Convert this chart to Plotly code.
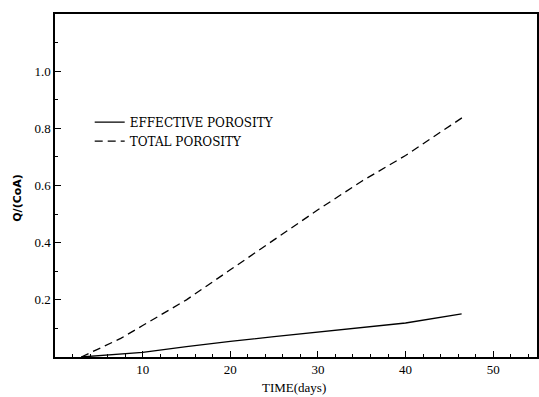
import plotly.graph_objects as go

# Data
time_total = [3.0, 5.0, 7.5, 10.0, 15.0, 20.0, 25.0, 30.0, 35.0, 40.0, 46.6]
q_total = [0.0, 0.03, 0.065, 0.11, 0.20, 0.305, 0.41, 0.515, 0.615, 0.705, 0.84]

time_eff = [3.0, 6.0, 10.0, 15.0, 20.0, 25.0, 30.0, 35.0, 40.0, 46.4]
q_eff = [0.0, 0.006, 0.016, 0.036, 0.055, 0.071, 0.087, 0.103, 0.119, 0.151]

x_ticks = [10, 20, 30, 40, 50]
y_ticks = [0.2, 0.4, 0.6, 0.8, 1.0]
y_tick_labels = ["0.2", "0.4", "0.6", "0.8", "1.0"]

x_title = "TIME(days)"
y_title = "Q/(CoA)"

font_family = "Liberation Serif, DejaVu Serif, serif"

fig = go.Figure()
fig.add_trace(go.Scatter(x=time_eff, y=q_eff, mode="lines", name="EFFECTIVE POROSITY",
                         line=dict(color="black", width=1.3, dash="solid")))
fig.add_trace(go.Scatter(x=time_total, y=q_total, mode="lines", name="TOTAL POROSITY",
                         line=dict(color="black", width=1.3, dash="8px,5px")))

fig.update_layout(
    width=539, height=397,
    margin=dict(l=55, r=2, t=14, b=40, autoexpand=False),
    paper_bgcolor="white", plot_bgcolor="white",
    font=dict(family=font_family, color="black", size=12),
    showlegend=True,
    legend=dict(x=0.072, y=0.727, xanchor="left", yanchor="top",
                bgcolor="rgba(0,0,0,0)", font=dict(size=12, family="DejaVu Serif, serif"),
                tracegroupgap=0, itemwidth=30),
    xaxis=dict(range=[0, 55], tickvals=x_ticks, ticks="inside", ticklen=6,
               tickcolor="black", showgrid=False, zeroline=False, automargin=False,
               showline=True, linecolor="black", linewidth=1.5, mirror=True,
               tickfont=dict(size=13, family=font_family),
               minor=dict(dtick=2, ticks="inside", ticklen=3, tickcolor="black")),
    yaxis=dict(range=[0, 1.2], tickvals=y_ticks, ticktext=y_tick_labels, ticks="inside",
               ticklen=6, tickcolor="black", showgrid=False, zeroline=False, automargin=False,
               showline=True, linecolor="black", linewidth=1.5, mirror=True,
               tickfont=dict(size=13, family=font_family),
               minor=dict(dtick=0.1, ticks="inside", ticklen=3, tickcolor="black")),
    annotations=[
        dict(text=x_title, xref="paper", yref="paper", x=0.496, y=-0.088,
             xanchor="center", yanchor="middle", showarrow=False,
             font=dict(size=13, family=font_family)),
        dict(text="<b>" + y_title + "</b>", xref="paper", yref="paper", x=-0.077, y=0.464,
             xanchor="center", yanchor="middle", textangle=-90, showarrow=False,
             font=dict(size=11, family="DejaVu Sans, sans-serif")),
    ],
)

fig.write_html("out.html", config={"displayModeBar": False},
               post_script="document.body.style.margin='0';")
